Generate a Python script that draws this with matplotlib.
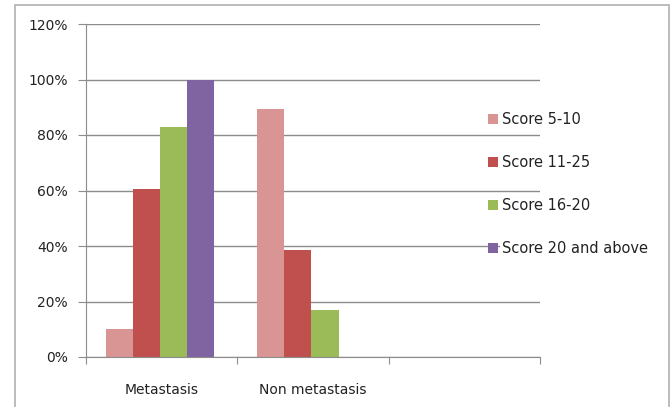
import matplotlib
matplotlib.use("Agg")
import matplotlib.pyplot as plt
from matplotlib.patches import Rectangle
from matplotlib.ticker import FixedLocator, PercentFormatter
import numpy as np

# chart data (percent)
categories = ["Metastasis", "Non metastasis", ""]
series_names = ["Score 5-10", "Score 11-25", "Score 16-20", "Score 20 and above"]
score_5_10 = [10, 89.5, 0]
score_11_25 = [60.5, 38.5, 0]
score_16_20 = [83, 17, 0]
score_20_up = [100, 0, 0]
colors = ["#D99594", "#C0504D", "#9BBB59", "#8064A2"]

W, H = 672, 407
fig = plt.figure(figsize=(W / 100, H / 100), dpi=100)
plt.rcParams['font.family'] = ['DejaVu Sans']
fs = 10

# plot area in pixels: left 86, right 540, top 24, bottom 357
ax = fig.add_axes([86 / W, 1 - 357 / H, (540 - 86) / W, (357 - 24) / H])

# outer chart border, bottom edge is cut off in the original
fig.patches.append(Rectangle((15 / W, -0.05), (669 - 15) / W, (1.05 - 5 / H),
                             transform=fig.transFigure, fill=False,
                             edgecolor="#B0B0B0", linewidth=1.2))

x = np.arange(len(categories)) + 0.5
bar_w = 0.179
all_series = [score_5_10, score_11_25, score_16_20, score_20_up]
for i, (vals, name, col) in enumerate(zip(all_series, series_names, colors)):
    offs = (i - 1.5) * bar_w - 0.01
    ax.bar(x + offs, vals, width=bar_w, color=col, label=name, zorder=3)

ax.set_xlim(0, 3)
ax.set_ylim(0, 120)
ax.set_yticks(np.arange(0, 121, 20))
ax.yaxis.set_major_formatter(PercentFormatter(decimals=0))
ax.yaxis.grid(True, color="#8C8C8C", linewidth=1.0, zorder=0)

# category boundaries as ticks, labels in between
ax.xaxis.set_major_locator(FixedLocator([0, 1, 2, 3]))
ax.set_xticklabels([])
ax.xaxis.set_minor_locator(FixedLocator(list(x)))
ax.set_xticklabels(categories, minor=True)
ax.tick_params(axis="x", which="minor", length=0, pad=19, labelsize=fs, labelcolor="#222222")
ax.tick_params(axis="x", which="major", length=5, direction="out", color="#8C8C8C")
ax.tick_params(axis="y", length=6, direction="out", color="#8C8C8C", pad=7,
               labelsize=fs, labelcolor="#222222")

for side in ["top", "right"]:
    ax.spines[side].set_visible(False)
for side in ["left", "bottom"]:
    ax.spines[side].set_color("#8C8C8C")
    ax.spines[side].set_zorder(4)

# legend without a frame, each label on its own white box
leg = ax.legend(loc="upper left", bbox_to_anchor=(488 / W, 1 - 112 / H),
                bbox_transform=fig.transFigure, frameon=False, fontsize=10.5,
                handlelength=0.7, handleheight=0.7, handletextpad=0.25,
                labelspacing=1.92, borderpad=0, borderaxespad=0)
leg.set_zorder(10)
for t in leg.get_texts():
    t.set_color("#222222")
    t.set_bbox(dict(facecolor="white", edgecolor="none", pad=1))

fig.savefig("out.png", dpi=100, facecolor="white")
